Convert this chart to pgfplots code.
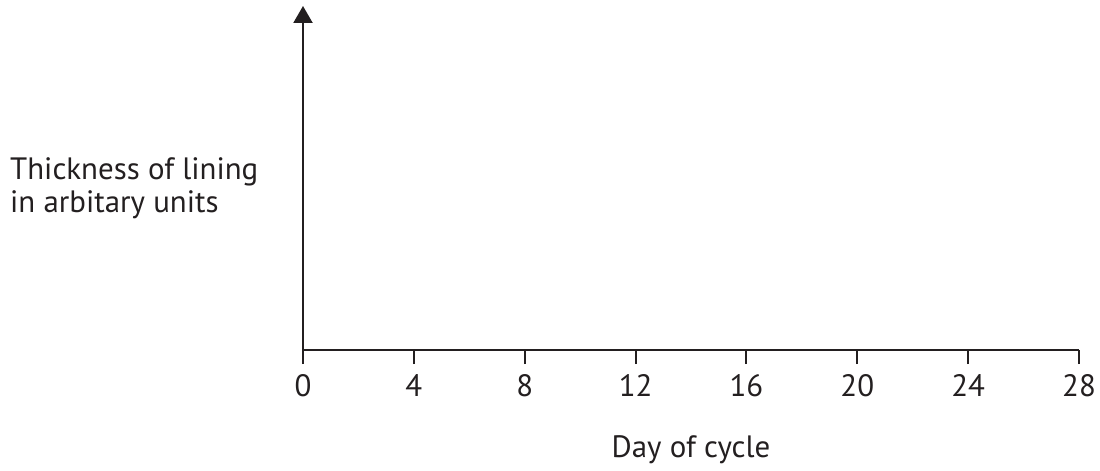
\documentclass[border=0pt]{standalone}
\usepackage{pgfplots}
\pgfplotsset{compat=1.18}
\usetikzlibrary{arrows.meta}
\usepackage{fontspec}
\setmainfont{PT Sans}
\definecolor{ink}{RGB}{35,31,32}
\begin{document}
\begin{tikzpicture}[x=1bp,y=1bp]
\path[use as bounding box] (0,0) rectangle (1100,-471);
\begin{axis}[
  at={(303bp,-350bp)}, anchor=south west,
  scale only axis, width=776bp, height=344bp,
  xmin=0, xmax=28, ymin=0, ymax=1,
  axis x line=bottom, axis y line=left,
  x axis line style={-, line width=2.2bp, color=ink},
  y axis line style={-{Triangle[width=19bp,length=17bp]}, line width=2.2bp, color=ink},
  xtick={0,4,...,28}, ytick=\empty,
  tick align=outside, major tick length=14bp,
  every tick/.style={line width=2bp, color=ink},
  xticklabel style={font=\fontsize{31}{36}\selectfont, color=ink, yshift=-7bp},
  /pgf/number format/assume math mode=true,
  clip=false,
]
\addplot[draw=none] coordinates {(0,0) (28,1)};
\end{axis}
\node[anchor=base, font=\fontsize{31}{36}\selectfont, text=ink, inner sep=0] at (691,-457) {Day of cycle};
\node[anchor=base west, font=\fontsize{31}{36}\selectfont, text=ink, inner sep=0] at (10,-180) {Thickness of lining};
\node[anchor=base west, font=\fontsize{31}{36}\selectfont, text=ink, inner sep=0] at (10,-213) {in arbitary units};
\end{tikzpicture}
\end{document}
